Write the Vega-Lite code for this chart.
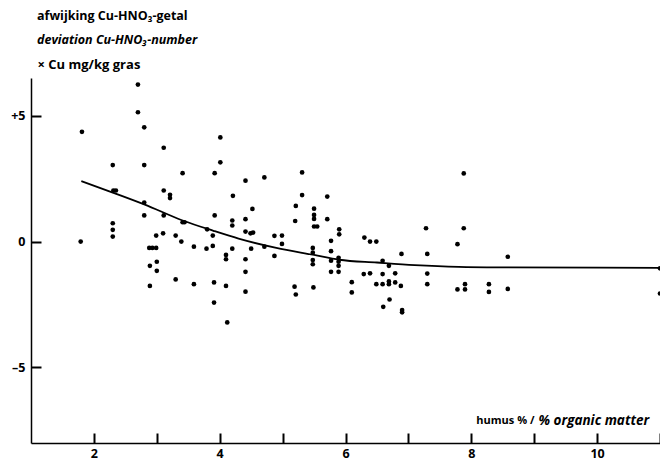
{
  "$schema": "https://vega.github.io/schema/vega-lite/v6.json",
  "width": 629,
  "height": 365,
  "autosize": "none",
  "padding": {"left": 31, "top": 78, "right": 0, "bottom": 17},
  "background": "white",
  "config": {
    "view": {"stroke": null},
    "axis": {"grid": false, "domainColor": "black", "tickColor": "black", "labelColor": "black", "titleColor": "black", "labelFont": "Open Sans", "titleFont": "Open Sans", "labelFontWeight": "bold", "titleFontWeight": "bold", "labelFontSize": 12.5, "titleFontSize": 12.5, "domainWidth": 1.5, "tickWidth": 2}
  },
  "title": {
    "text": "afwijking Cu-HNO₃-getal",
    "subtitle": "deviation Cu-HNO₃-number",
    "anchor": "start",
    "frame": "group",
    "dx": 6,
    "offset": 12,
    "font": "Open Sans",
    "fontSize": 12.5,
    "fontWeight": "bold",
    "color": "black",
    "subtitleFont": "Open Sans",
    "subtitleFontSize": 12.5,
    "subtitleFontWeight": "bold",
    "subtitleFontStyle": "italic",
    "subtitleColor": "black",
    "subtitlePadding": 11
  },
  "datasets": {
    "points": [
      {"h": 1.81, "d": 4.36}, {"h": 1.79, "d": 0.0}, {"h": 2.30, "d": 3.04}, {"h": 2.31, "d": 2.03}, {"h": 2.35, "d": 2.03},
      {"h": 2.30, "d": 0.73}, {"h": 2.30, "d": 0.47}, {"h": 2.30, "d": 0.20}, {"h": 2.70, "d": 6.24}, {"h": 2.70, "d": 5.14},
      {"h": 2.80, "d": 4.54}, {"h": 2.80, "d": 3.04}, {"h": 2.80, "d": 1.55}, {"h": 2.80, "d": 1.04}, {"h": 2.99, "d": 0.24},
      {"h": 3.10, "d": 0.33}, {"h": 2.88, "d": -0.25}, {"h": 2.93, "d": -0.25}, {"h": 2.99, "d": -0.25}, {"h": 3.00, "d": -0.80},
      {"h": 2.89, "d": -0.96}, {"h": 3.00, "d": -1.16}, {"h": 2.89, "d": -1.76}, {"h": 3.11, "d": 3.73}, {"h": 3.11, "d": 2.03},
      {"h": 3.21, "d": 1.86}, {"h": 3.21, "d": 1.73}, {"h": 3.11, "d": 1.04}, {"h": 3.30, "d": 0.24}, {"h": 3.39, "d": 0.0},
      {"h": 3.30, "d": -1.50}, {"h": 3.41, "d": 2.72}, {"h": 3.41, "d": 0.77}, {"h": 3.44, "d": 0.77}, {"h": 3.59, "d": -0.20},
      {"h": 3.59, "d": -1.69}, {"h": 3.80, "d": 0.49}, {"h": 3.79, "d": -0.28}, {"h": 3.89, "d": 0.24}, {"h": 3.89, "d": -0.17},
      {"h": 3.92, "d": 2.72}, {"h": 3.92, "d": 1.04}, {"h": 3.91, "d": -1.62}, {"h": 3.91, "d": -2.42}, {"h": 4.01, "d": 4.14},
      {"h": 4.01, "d": 3.15}, {"h": 4.10, "d": -0.53}, {"h": 4.10, "d": -0.70}, {"h": 4.10, "d": -1.76}, {"h": 4.12, "d": -3.21},
      {"h": 4.21, "d": 1.82}, {"h": 4.20, "d": 0.84}, {"h": 4.20, "d": 0.64}, {"h": 4.20, "d": -0.28}, {"h": 4.41, "d": 2.42},
      {"h": 4.41, "d": 0.89}, {"h": 4.41, "d": 0.40}, {"h": 4.49, "d": 0.33}, {"h": 4.53, "d": 0.36}, {"h": 4.52, "d": 1.30},
      {"h": 4.50, "d": -0.28}, {"h": 4.41, "d": -0.70}, {"h": 4.41, "d": -1.20}, {"h": 4.41, "d": -1.99}, {"h": 4.71, "d": 2.55},
      {"h": 4.71, "d": -0.20}, {"h": 4.87, "d": 0.23}, {"h": 4.99, "d": 0.24}, {"h": 4.99, "d": -0.09}, {"h": 4.87, "d": -0.57},
      {"h": 5.31, "d": 2.75}, {"h": 5.31, "d": 1.85}, {"h": 5.21, "d": 1.42}, {"h": 5.20, "d": 0.82}, {"h": 5.19, "d": -1.79},
      {"h": 5.21, "d": -2.10}, {"h": 5.50, "d": 1.31}, {"h": 5.50, "d": 1.06}, {"h": 5.50, "d": 0.90}, {"h": 5.50, "d": 0.60},
      {"h": 5.55, "d": 0.60}, {"h": 5.48, "d": -0.25}, {"h": 5.48, "d": -0.44}, {"h": 5.48, "d": -0.73}, {"h": 5.48, "d": -0.90},
      {"h": 5.49, "d": -1.82}, {"h": 5.71, "d": 1.79}, {"h": 5.71, "d": 0.89}, {"h": 5.77, "d": 0.03}, {"h": 5.77, "d": -0.38},
      {"h": 5.77, "d": -0.76}, {"h": 5.77, "d": -1.20}, {"h": 5.90, "d": 0.49}, {"h": 5.90, "d": 0.29}, {"h": 5.89, "d": -0.64},
      {"h": 5.89, "d": -0.80}, {"h": 5.89, "d": -0.96}, {"h": 5.89, "d": -1.20}, {"h": 6.10, "d": -1.61}, {"h": 6.10, "d": -2.02},
      {"h": 6.30, "d": 0.16}, {"h": 6.39, "d": 0.0}, {"h": 6.49, "d": 0.0}, {"h": 6.29, "d": -1.29}, {"h": 6.39, "d": -1.26},
      {"h": 6.59, "d": -0.76}, {"h": 6.59, "d": -1.29}, {"h": 6.69, "d": -0.96}, {"h": 6.79, "d": -1.26}, {"h": 6.49, "d": -1.69},
      {"h": 6.59, "d": -1.69}, {"h": 6.69, "d": -1.58}, {"h": 6.69, "d": -1.69}, {"h": 6.79, "d": -1.62}, {"h": 6.88, "d": -1.76},
      {"h": 6.70, "d": -2.30}, {"h": 6.60, "d": -2.59}, {"h": 6.90, "d": -2.72}, {"h": 6.90, "d": -2.81}, {"h": 6.89, "d": -0.49},
      {"h": 7.28, "d": 0.53}, {"h": 7.30, "d": -0.49}, {"h": 7.30, "d": -1.27}, {"h": 7.30, "d": -1.69}, {"h": 7.78, "d": -0.10},
      {"h": 7.78, "d": -1.90}, {"h": 7.88, "d": 2.71}, {"h": 7.88, "d": 0.53}, {"h": 7.90, "d": -1.69}, {"h": 7.90, "d": -1.90},
      {"h": 8.28, "d": -1.69}, {"h": 8.28, "d": -2.00}, {"h": 8.58, "d": -0.60}, {"h": 8.58, "d": -1.88}, {"h": 11.0, "d": -1.06},
      {"h": 11.0, "d": -2.06}
    ],
    "curve": [
      {"h": 1.8, "d": 2.4}, {"h": 2.3, "d": 1.95}, {"h": 2.8, "d": 1.48}, {"h": 3.4, "d": 0.85}, {"h": 3.9, "d": 0.43},
      {"h": 4.3, "d": 0.12}, {"h": 4.9, "d": -0.25}, {"h": 5.5, "d": -0.53}, {"h": 5.9, "d": -0.72}, {"h": 6.5, "d": -0.83},
      {"h": 7.1, "d": -0.93}, {"h": 7.8, "d": -1.0}, {"h": 8.5, "d": -1.02}, {"h": 11.0, "d": -1.04}
    ]
  },
  "resolve": {"axis": {"x": "independent", "y": "independent"}},
  "layer": [
    {
      "data": {"name": "points"},
      "mark": {"type": "circle", "size": 22, "color": "black", "opacity": 1},
      "encoding": {
        "x": {"field": "h", "type": "quantitative", "scale": {"domain": [1, 11], "nice": false, "zero": false},
          "axis": {"orient": "bottom", "values": [2, 3, 4, 5, 6, 7, 8, 9, 10, 11], "labelExpr": "datum.value % 2 == 0 ? datum.label : ''", "ticks": true, "tickSize": -10, "labelPadding": 14, "labelFlush": false, "labelOverlap": false,
            "title": "humus % /", "titleAnchor": "end", "titleAlign": "right", "titleX": 503, "titleY": -23, "titleBaseline": "middle", "titleFontSize": 11}},
        "y": {"field": "d", "type": "quantitative", "scale": {"domain": [-8, 6.5], "nice": false, "zero": false},
          "axis": {"orient": "left", "values": [-5, 0, 5], "labelExpr": "datum.value > 0 ? '+' + datum.label : (datum.value < 0 ? '–5' : datum.label)", "ticks": true, "tickSize": -10, "labelPadding": 16, "labelFlush": false,
            "title": "× Cu mg/kg gras", "titleAngle": 0, "titleAlign": "left", "titleAnchor": "start", "titleX": 6, "titleY": -14, "titleBaseline": "middle", "titleFontSize": 13}}
      }
    },
    {
      "data": {"name": "curve"},
      "mark": {"type": "line", "color": "black", "strokeWidth": 1.8, "interpolate": "monotone"},
      "encoding": {
        "x": {"field": "h", "type": "quantitative",
          "axis": {"orient": "bottom", "domain": false, "ticks": false, "labels": false,
            "title": "% organic matter", "titleFontStyle": "italic", "titleAlign": "left", "titleAnchor": "start", "titleX": 507, "titleY": -23, "titleBaseline": "middle", "titleFontSize": 13.5}},
        "y": {"field": "d", "type": "quantitative", "axis": null}
      }
    }
  ]
}
